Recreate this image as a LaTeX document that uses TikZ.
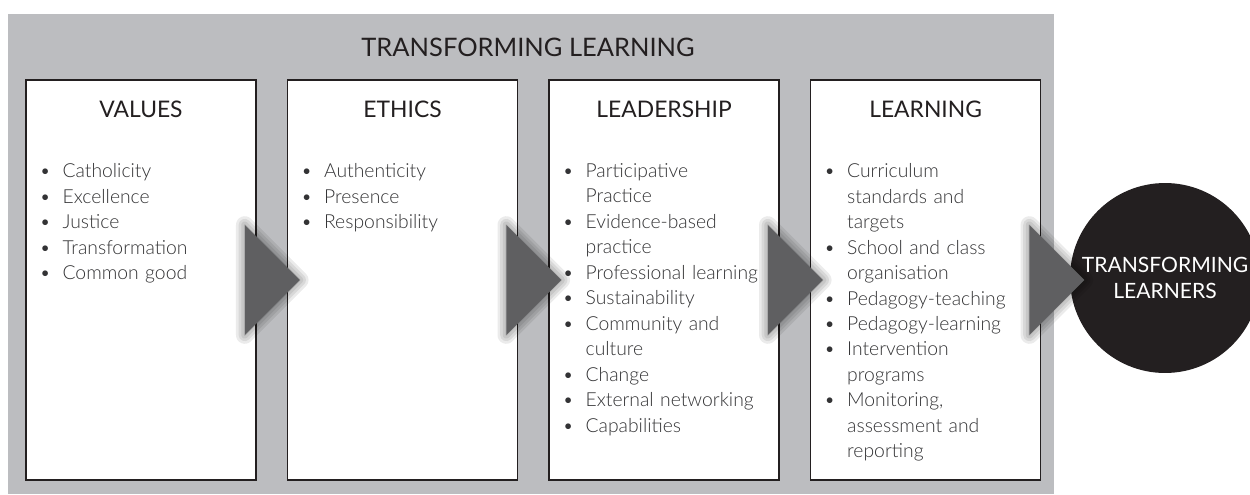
\documentclass[tikz,border=0pt]{standalone}
\usepackage{fontspec}
\setmainfont{Lato}
\newfontfamily\lightfont{Lato Light}
\usetikzlibrary{positioning,calc}
\definecolor{panelgray}{HTML}{BCBDC0}
\definecolor{inkblack}{HTML}{231F20}
\definecolor{arrowgray}{HTML}{5F5F61}
\definecolor{textgray}{HTML}{333335}
\tikzset{
  stage/.style ={draw=inkblack, line width=0.9pt, fill=white, minimum width=4.6cm, minimum height=8cm, inner sep=0pt},
  heading/.style ={font=\fontsize{13}{15.5}\selectfont, text=inkblack},
  points/.style ={anchor=north west, text width=4.3cm, align=left, inner sep=0pt, font=\lightfont\fontsize{11}{14.5}\selectfont, text=textgray},
  chevron/.style ={fill=arrowgray},
  glow/.style ={draw=black, draw opacity=0.08, line join=round, shift={(5,4)}}
}
\newcommand{\linebrk}{\hfil\break}
\newcommand{\listpoint}[1]{\hangindent=0.46cm\hangafter=1\noindent\makebox[0.46cm][l]{\textbullet}#1\par}

\begin{document}
\begin{tikzpicture}[x=0.02cm, y=-0.02cm]
	\clip (0,0) rectangle (1250,494);
	\fill[panelgray] (8,14) rectangle (1054,494);
	\node[heading, font=\fontsize{14.5}{17}\selectfont] (title) at (528,47) {TRANSFORMING LEARNING};

	% the four stages
	\node[stage] (values) at (141,280) {};
	\node[stage, right=0.6cm of values] (ethics) {};
	\node[stage, right=0.6cm of ethics] (leadership) {};
	\node[stage, right=0.6cm of leadership] (learning) {};

	\node[heading] at ($(values.north)+(0,30)$) {VALUES};
	\node[heading] at ($(ethics.north)+(0,30)$) {ETHICS};
	\node[heading] at ($(leadership.north)+(0,30)$) {LEADERSHIP};
	\node[heading] at ($(learning.north)+(0,30)$) {LEARNING};

	\node[points] (valuelist) at ($(values.north west)+(14,84)$) {%
		\listpoint{Catholicity}
		\listpoint{Excellence}
		\listpoint{Justice}
		\listpoint{Transformation}
		\listpoint{Common good}};
	\node[points] (ethiclist) at ($(ethics.north west)+(14,84)$) {%
		\listpoint{Authenticity}
		\listpoint{Presence}
		\listpoint{Responsibility}};
	\node[points] (leadlist) at ($(leadership.north west)+(14,84)$) {%
		\listpoint{Participative\linebrk Practice}
		\listpoint{Evidence-based\linebrk practice}
		\listpoint{Professional learning}
		\listpoint{Sustainability}
		\listpoint{Community and\linebrk culture}
		\listpoint{Change}
		\listpoint{External networking}
		\listpoint{Capabilities}};
	\node[points] (learnlist) at ($(learning.north west)+(14,84)$) {%
		\listpoint{Curriculum\linebrk standards and\linebrk targets}
		\listpoint{School and class\linebrk organisation}
		\listpoint{Pedagogy-teaching}
		\listpoint{Pedagogy-learning}
		\listpoint{Intervention\linebrk programs}
		\listpoint{Monitoring,\linebrk assessment and\linebrk reporting}};

	% outcome
	\node[circle, fill=inkblack, minimum size=3.8cm, inner sep=0pt, align=center, text=white,
		font=\fontsize{12}{14.7}\selectfont] (outcome) at (1165,278) {TRANSFORMING\\LEARNERS};

	% chevrons between the stages, with a soft shadow
	\foreach \s in {values,ethics,leadership,learning}{
		\foreach \w in {10,7,4,1}
			\draw[glow, line width=\w pt] ($(\s.east)+(-12,-55)$) -- ($(\s.east)+(43,0)$) -- ($(\s.east)+(-12,55)$) -- cycle;
		\fill[chevron] ($(\s.east)+(-12,-55)$) -- ($(\s.east)+(43,0)$) -- ($(\s.east)+(-12,55)$) -- cycle;
	}

\end{tikzpicture}
\end{document}
